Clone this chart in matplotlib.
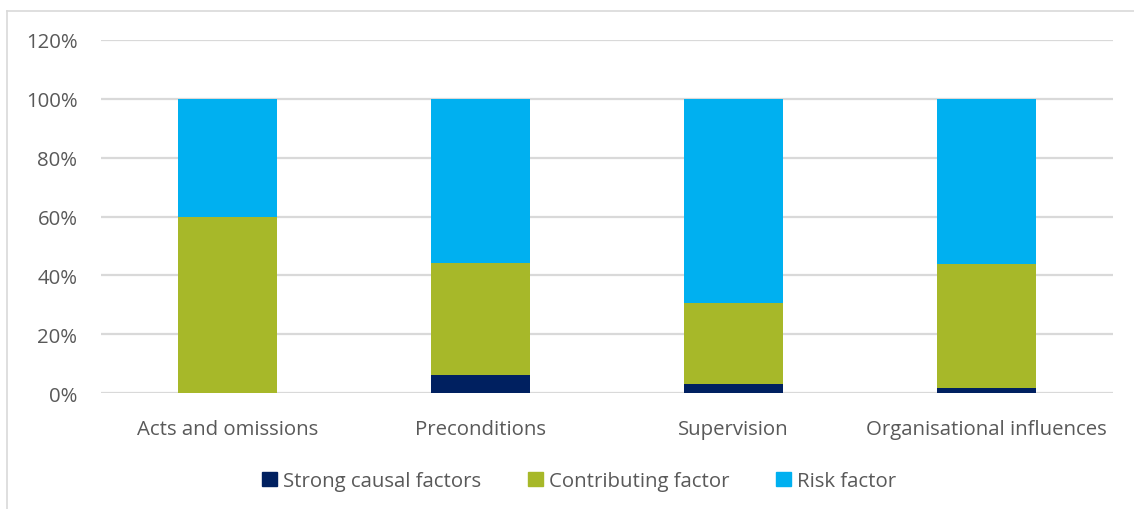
import matplotlib.pyplot as plt
import numpy as np
from matplotlib.lines import Line2D

# stacked shares per HFACS level (percent)
categories = ['Acts and omissions', 'Preconditions', 'Supervision', 'Organisational influences']
strong = [0, 6.0, 3.0, 1.6]
contributing = [60.0, 38.3, 27.7, 42.1]
risk = [40.0, 55.7, 69.3, 56.3]
series_names = ['Strong causal factors', 'Contributing factor', 'Risk factor']
colors = ['#002060', '#A7B829', '#00B0F0']
yticks = [0, 20, 40, 60, 80, 100, 120]

plt.rcParams['font.family'] = ['Open Sans', 'DejaVu Sans']
txt = '#595959'
grid = '#D9D9D9'
fs = 14.7

fig = plt.figure(figsize=(11.34, 5.1), dpi=100)
ax = fig.add_axes([101/1134, 1 - 394/510, (1113 - 101)/1134, (394 - 41)/510])

x = np.arange(len(categories))
w = 0.395
bottom = np.zeros(len(categories))
for vals, name, c in zip([strong, contributing, risk], series_names, colors):
    ax.bar(x, vals, w, bottom=bottom, color=c, label=name, zorder=3)
    bottom += np.array(vals)

ax.set_xlim(-0.5, len(categories) - 0.5)
ax.set_ylim(0, 120)
ax.set_yticks(yticks)
ax.set_yticklabels([f'{t}%' for t in yticks])
ax.set_xticks(x)
ax.set_xticklabels(categories)
ax.tick_params(axis='y', length=0, pad=17, labelsize=fs, labelcolor=txt)
ax.tick_params(axis='x', length=0, pad=19, labelsize=fs, labelcolor=txt)
ax.yaxis.grid(True, color=grid, linewidth=1.6, zorder=0)
for s in ax.spines.values():
    s.set_visible(False)

handles = [plt.Rectangle((0, 0), 1, 1, color=c) for c in colors]
fig.legend(handles, series_names, loc='center', bbox_to_anchor=(579/1134, 1 - 482/510),
           ncol=3, frameon=False, fontsize=fs, handlelength=0.73, handleheight=0.73,
           handletextpad=0.3, columnspacing=2.3, labelcolor=txt)

# outer chart border (top and left only)
fig.add_artist(Line2D([7/1134, 1], [1 - 12/510, 1 - 12/510], color=grid, linewidth=1.2))
fig.add_artist(Line2D([7/1134, 7/1134], [0, 1 - 12/510], color=grid, linewidth=1.2))

fig.savefig('out.png', dpi=100)
